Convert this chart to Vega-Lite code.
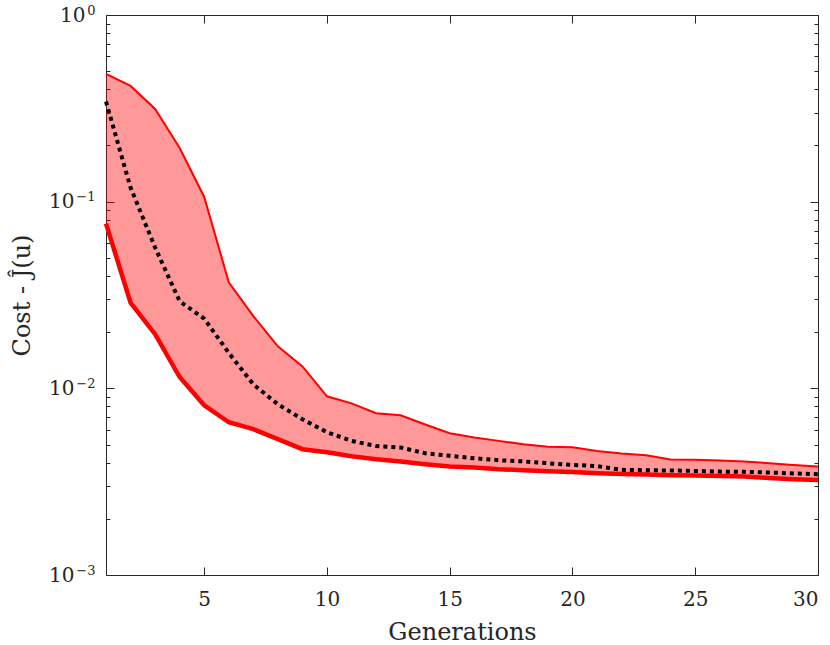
{
  "$schema": "https://vega.github.io/schema/vega-lite/v6.json",
  "autosize": "none",
  "padding": {"left": 106, "top": 15, "right": 12, "bottom": 70},
  "width": 712,
  "height": 560,
  "background": "white",
  "config": {
    "view": {"stroke": "#262626", "strokeWidth": 1},
    "font": "DejaVu Serif",
    "axis": {
      "domain": false,
      "grid": false,
      "tickColor": "#262626",
      "tickWidth": 1,
      "labelColor": "#262626",
      "titleColor": "#262626",
      "labelFont": "DejaVu Serif",
      "titleFont": "DejaVu Serif",
      "labelFontSize": 20,
      "titleFontSize": 24,
      "titleFontWeight": "normal"
    }
  },
  "data": {
    "values": [
      {"gen": 1, "lo": 0.0763, "med": 0.344, "hi": 0.4835},
      {"gen": 2, "lo": 0.0288, "med": 0.119, "hi": 0.417},
      {"gen": 3, "lo": 0.0195, "med": 0.0568, "hi": 0.314},
      {"gen": 4, "lo": 0.0115, "med": 0.0293, "hi": 0.194},
      {"gen": 5, "lo": 0.00811, "med": 0.0236, "hi": 0.106},
      {"gen": 6, "lo": 0.00658, "med": 0.0155, "hi": 0.037},
      {"gen": 7, "lo": 0.00604, "med": 0.0105, "hi": 0.0244},
      {"gen": 8, "lo": 0.00534, "med": 0.00821, "hi": 0.0168},
      {"gen": 9, "lo": 0.00472, "med": 0.00683, "hi": 0.0131},
      {"gen": 10, "lo": 0.00455, "med": 0.00582, "hi": 0.00906},
      {"gen": 11, "lo": 0.00433, "med": 0.00523, "hi": 0.00831},
      {"gen": 12, "lo": 0.00417, "med": 0.00491, "hi": 0.00735},
      {"gen": 13, "lo": 0.00406, "med": 0.00482, "hi": 0.00717},
      {"gen": 14, "lo": 0.00392, "med": 0.00449, "hi": 0.0064},
      {"gen": 15, "lo": 0.00381, "med": 0.00435, "hi": 0.00575},
      {"gen": 16, "lo": 0.00377, "med": 0.00422, "hi": 0.00545},
      {"gen": 17, "lo": 0.00369, "med": 0.00412, "hi": 0.00523},
      {"gen": 18, "lo": 0.00364, "med": 0.00406, "hi": 0.00502},
      {"gen": 19, "lo": 0.0036, "med": 0.00397, "hi": 0.00486},
      {"gen": 20, "lo": 0.00356, "med": 0.00389, "hi": 0.00484},
      {"gen": 21, "lo": 0.00351, "med": 0.00383, "hi": 0.00462},
      {"gen": 22, "lo": 0.00348, "med": 0.00366, "hi": 0.00447},
      {"gen": 23, "lo": 0.00345, "med": 0.00364, "hi": 0.00438},
      {"gen": 24, "lo": 0.00342, "med": 0.00363, "hi": 0.00416},
      {"gen": 25, "lo": 0.00341, "med": 0.00361, "hi": 0.00414},
      {"gen": 26, "lo": 0.00339, "med": 0.00358, "hi": 0.0041},
      {"gen": 27, "lo": 0.00337, "med": 0.00357, "hi": 0.00406},
      {"gen": 28, "lo": 0.00331, "med": 0.00354, "hi": 0.00397},
      {"gen": 29, "lo": 0.00326, "med": 0.0035, "hi": 0.00388},
      {"gen": 30, "lo": 0.00323, "med": 0.00347, "hi": 0.00381}
    ]
  },
  "resolve": {"axis": {"x": "independent", "y": "independent"}},
  "layer": [
    {
      "mark": {"type": "area", "color": "#ff0000", "opacity": 0.4},
      "encoding": {
        "x": {
          "field": "gen", "type": "quantitative",
          "scale": {"domain": [1, 30], "nice": false, "zero": false},
          "axis": {
            "orient": "bottom", "title": "Generations", "ticks": false,
            "values": [5, 10, 15, 20, 25, 30],
            "labelPadding": 14, "titlePadding": 11
          }
        },
        "y": {
          "field": "lo", "type": "quantitative",
          "scale": {"type": "log", "domain": [0.001, 1], "nice": false},
          "axis": {
            "orient": "left", "title": "Cost - Ĵ(u)", "ticks": false,
            "values": [0.001, 0.01, 0.1, 1],
            "labelExpr": "'10'",
            "labelPadding": {"condition": {"test": "datum.value === 1", "value": 21}, "value": 32},
            "titlePadding": 14
          }
        },
        "y2": {"field": "hi"}
      }
    },
    {
      "mark": {"type": "line", "color": "#ff0000", "strokeWidth": 2},
      "encoding": {
        "x": {
          "field": "gen", "type": "quantitative",
          "axis": {"orient": "top", "title": null, "labels": false, "zindex": 0,
                   "values": [5, 10, 15, 20, 25, 30], "tickSize": 8, "offset": -8}
        },
        "y": {
          "field": "hi", "type": "quantitative",
          "axis": {"orient": "right", "title": null, "labels": false, "zindex": 0,
                   "values": [0.001, 0.01, 0.1, 1], "tickSize": 8, "offset": -8}
        }
      }
    },
    {
      "mark": {"type": "line", "color": "#ff0000", "strokeWidth": 4.5},
      "encoding": {
        "x": {
          "field": "gen", "type": "quantitative",
          "axis": {"orient": "bottom", "title": null, "labels": false, "zindex": 0,
                   "values": [5, 10, 15, 20, 25, 30], "tickSize": 8, "offset": -8}
        },
        "y": {
          "field": "lo", "type": "quantitative",
          "axis": {"orient": "left", "title": null, "labels": false, "zindex": 0,
                   "values": [0.001, 0.01, 0.1, 1], "tickSize": 8, "offset": -8}
        }
      }
    },
    {
      "mark": {"type": "line", "opacity": 0},
      "encoding": {
        "x": {"field": "gen", "type": "quantitative", "axis": null},
        "y": {
          "field": "hi", "type": "quantitative",
          "axis": {
            "orient": "left", "title": null, "labels": false, "zindex": 0,
            "values": [0.002, 0.003, 0.004, 0.005, 0.006, 0.007, 0.008, 0.009,
                       0.02, 0.03, 0.04, 0.05, 0.06, 0.07, 0.08, 0.09,
                       0.2, 0.3, 0.4, 0.5, 0.6, 0.7, 0.8, 0.9],
            "tickSize": 4, "offset": -4
          }
        }
      }
    },
    {
      "mark": {"type": "line", "opacity": 0},
      "encoding": {
        "x": {"field": "gen", "type": "quantitative", "axis": null},
        "y": {
          "field": "lo", "type": "quantitative",
          "axis": {
            "orient": "right", "title": null, "labels": false, "zindex": 0,
            "values": [0.002, 0.003, 0.004, 0.005, 0.006, 0.007, 0.008, 0.009,
                       0.02, 0.03, 0.04, 0.05, 0.06, 0.07, 0.08, 0.09,
                       0.2, 0.3, 0.4, 0.5, 0.6, 0.7, 0.8, 0.9],
            "tickSize": 4, "offset": -4
          }
        }
      }
    },
    {
      "mark": {"type": "line", "color": "black", "strokeWidth": 4, "strokeDash": [4, 4], "strokeCap": "butt"},
      "encoding": {
        "x": {"field": "gen", "type": "quantitative", "axis": null},
        "y": {
          "field": "med", "type": "quantitative",
          "axis": {
            "orient": "left", "title": null, "ticks": false,
            "values": [0.001, 0.01, 0.1, 1],
            "labelExpr": "datum.value === 1 ? '0' : datum.value === 0.1 ? '−1' : datum.value === 0.01 ? '−2' : '−3'",
            "labelFontSize": 13, "labelPadding": 11, "labelOffset": -5
          }
        }
      }
    }
  ]
}
